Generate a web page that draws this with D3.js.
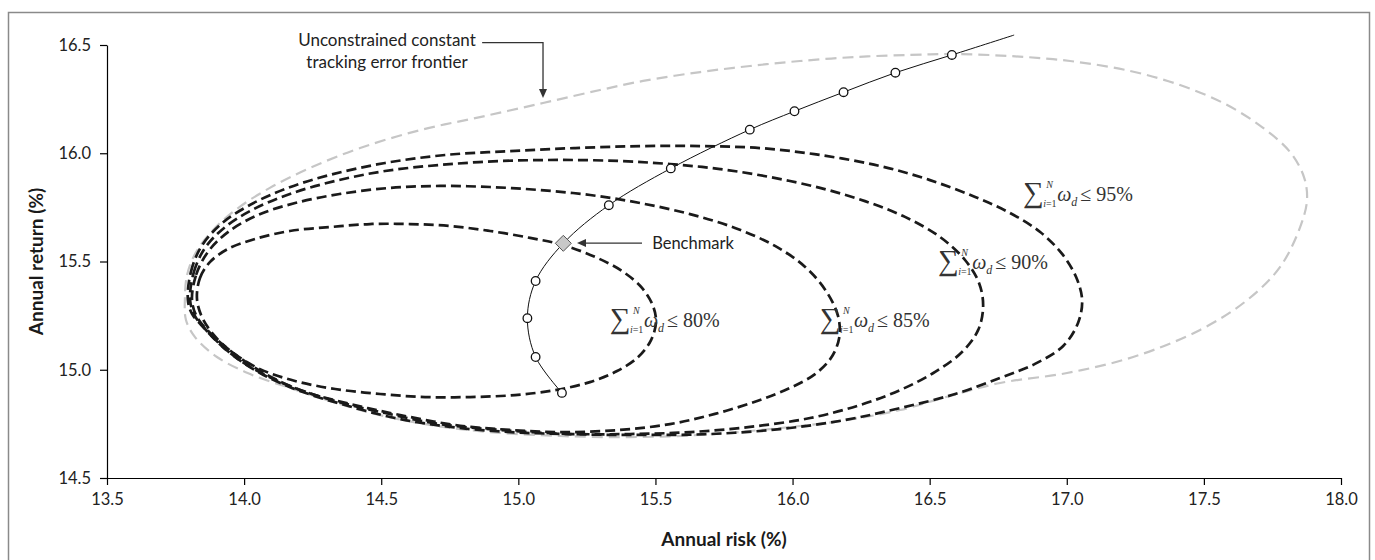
<!DOCTYPE html>
<html>
<head>
<meta charset="utf-8">
<script src="https://cdn.jsdelivr.net/npm/d3@7"></script>
<style>
  html, body { margin: 0; padding: 0; background: #fff; }
  svg { display: block; }
  .sans { font-family: Lato, "Open Sans", sans-serif; }
</style>
</head>
<body>
<svg id="chart" width="1375" height="560"></svg>
<script>
// ---------------- DATA ----------------
const riskTicks = [13.5, 14.0, 14.5, 15.0, 15.5, 16.0, 16.5, 17.0, 17.5, 18.0];
const returnTicks = [14.5, 15.0, 15.5, 16.0, 16.5];

// Constant tracking error frontier (solid line with markers)
const frontierRisk   = [15.159, 15.063, 15.033, 15.063, 15.164, 15.330, 15.556, 15.844, 16.007, 16.186, 16.375, 16.581, 16.808];
const frontierReturn = [14.893, 15.059, 15.238, 15.410, 15.584, 15.760, 15.930, 16.109, 16.194, 16.282, 16.372, 16.454, 16.546];
const frontierMarker = ["circle","circle","circle","circle","benchmark","circle","circle","circle","circle","circle","circle","circle","none"];

// Unconstrained constant tracking error frontier (grey dashed)
const unconstrainedRisk   = [13.784,13.792,13.825,13.887,13.978,14.094,14.240,14.423,14.642,14.860,15.090,15.298,15.455,15.663,15.845,16.027,16.235,16.429,16.582,16.793,17.012,17.231,17.413,17.577,17.712,17.814,17.865,17.876,17.851,17.778,17.658,17.486,17.242,17.001,16.757,16.574,16.392,16.173,15.918,15.663,15.407,15.152,14.897,14.678,14.477,14.277,14.167,14.022,13.901,13.821,13.788];
const unconstrainedReturn = [15.322,15.438,15.544,15.646,15.747,15.840,15.932,16.024,16.107,16.167,16.232,16.292,16.334,16.375,16.403,16.426,16.445,16.454,16.458,16.449,16.426,16.380,16.315,16.228,16.121,16.006,15.890,15.784,15.659,15.475,15.322,15.184,15.059,14.985,14.939,14.879,14.814,14.763,14.726,14.699,14.689,14.694,14.712,14.745,14.796,14.870,14.916,14.980,15.059,15.151,15.230];

// Constrained frontiers: sum of weights <= 95%, 90%, 85%, 80%
const c95Risk   = [13.795,13.806,13.843,13.912,14.014,14.149,14.313,14.514,14.733,14.970,15.207,15.444,15.663,15.881,16.100,16.319,16.501,16.666,16.793,16.903,16.983,17.034,17.056,17.041,16.987,16.884,16.757,16.593,16.392,16.192,15.954,15.699,15.444,15.189,14.933,14.714,14.514,14.332,14.167,14.029,13.927,13.854,13.810];
const c95Return = [15.322,15.452,15.567,15.669,15.756,15.835,15.900,15.955,15.992,16.010,16.024,16.033,16.033,16.024,15.992,15.941,15.876,15.798,15.724,15.636,15.535,15.428,15.322,15.216,15.110,15.027,14.962,14.888,14.823,14.768,14.726,14.703,14.699,14.703,14.722,14.749,14.800,14.856,14.925,15.008,15.100,15.193,15.258];

const c90Risk   = [13.803,13.817,13.857,13.927,14.029,14.167,14.332,14.514,14.714,14.933,15.152,15.371,15.553,15.736,15.918,16.100,16.264,16.410,16.538,16.629,16.680,16.695,16.677,16.618,16.520,16.392,16.246,16.064,15.845,15.626,15.407,15.189,14.970,14.751,14.550,14.368,14.204,14.058,13.949,13.868,13.821];
const c90Return = [15.322,15.452,15.562,15.655,15.738,15.812,15.872,15.918,15.946,15.964,15.969,15.964,15.950,15.927,15.890,15.840,15.779,15.706,15.613,15.507,15.401,15.295,15.184,15.082,14.990,14.906,14.837,14.777,14.736,14.712,14.703,14.703,14.712,14.736,14.777,14.837,14.902,14.985,15.077,15.174,15.248];

const c85Risk   = [13.810,13.825,13.868,13.941,14.051,14.186,14.350,14.532,14.714,14.897,15.079,15.262,15.444,15.626,15.790,15.936,16.046,16.122,16.166,16.170,16.140,16.082,15.991,15.871,15.717,15.553,15.371,15.170,14.970,14.769,14.569,14.386,14.204,14.065,13.956,13.876,13.828];
const c85Return = [15.322,15.438,15.544,15.636,15.715,15.770,15.812,15.840,15.849,15.844,15.830,15.807,15.770,15.719,15.655,15.572,15.475,15.364,15.248,15.147,15.054,14.980,14.916,14.856,14.796,14.749,14.722,14.712,14.722,14.745,14.791,14.842,14.906,14.990,15.082,15.170,15.244];

const c80Risk   = [13.828,13.839,13.876,13.941,14.040,14.167,14.313,14.459,14.605,14.751,14.897,15.043,15.163,15.280,15.378,15.451,15.491,15.502,15.484,15.437,15.360,15.261,15.134,14.988,14.824,14.660,14.496,14.332,14.186,14.058,13.956,13.883,13.843];
const c80Return = [15.331,15.424,15.498,15.558,15.604,15.641,15.659,15.673,15.673,15.664,15.641,15.609,15.576,15.521,15.456,15.378,15.295,15.221,15.137,15.059,14.994,14.943,14.906,14.883,14.874,14.874,14.888,14.911,14.948,15.003,15.082,15.170,15.253];

const constraintLevels = ["80%", "85%", "90%", "95%"];

// ---------------- LAYOUT (not data) ----------------
const W = 1375, H = 560;
const margin = { left: 107, right: 34, top: 45, bottom: 82 };
const labelAnchors = {          // in data units (risk, return)
  "80%": [15.334, 15.197],
  "85%": [16.100, 15.197],
  "90%": [16.531, 15.465],
  "95%": [16.841, 15.779]
};

const svg = d3.select("#chart");
const x = d3.scaleLinear().domain([13.5, 18.0]).range([margin.left, W - margin.right]);
const y = d3.scaleLinear().domain([14.5, 16.5]).range([H - margin.bottom, margin.top]);

// outer frame
svg.append("rect").attr("x", 8.5).attr("y", 12.5).attr("width", 1361).attr("height", 600)
  .attr("fill", "none").attr("stroke", "#8a8a8a").attr("stroke-width", 1.5);

// axes
const fmt = d3.format(".1f");
const gx = svg.append("g").attr("transform", `translate(0,${y(14.5)})`)
  .call(d3.axisBottom(x).tickValues(riskTicks).tickFormat(fmt).tickSize(7).tickSizeOuter(0).tickPadding(8));
const gy = svg.append("g").attr("transform", `translate(${x(13.5)},0)`)
  .call(d3.axisLeft(y).tickValues(returnTicks).tickFormat(fmt).tickSize(7).tickSizeOuter(0).tickPadding(9));
[gx, gy].forEach(g => {
  g.selectAll("path.domain").attr("stroke", "#000").attr("stroke-width", 1.2);
  g.selectAll(".tick line").attr("stroke", "#000").attr("stroke-width", 1.2);
  g.selectAll(".tick text").attr("class", "sans").style("font-size", "16.5px").attr("fill", "#222");
});

// axis titles
svg.append("text").attr("class", "sans").attr("x", (x(13.5) + x(18.0)) / 2).attr("y", 546)
  .attr("text-anchor", "middle").style("font-size", "19px").style("font-weight", "bold").attr("fill", "#1a1a1a")
  .text("Annual risk (%)");
svg.append("text").attr("class", "sans")
  .attr("transform", `translate(43,${(y(14.5) + y(16.5)) / 2}) rotate(-90)`)
  .attr("text-anchor", "middle").style("font-size", "19px").style("font-weight", "bold").attr("fill", "#1a1a1a")
  .text("Annual return (%)");

// curves
const closed = d3.line().x(d => x(d[0])).y(d => y(d[1])).curve(d3.curveCatmullRomClosed.alpha(0.5));
const zip = (a, b) => a.map((v, i) => [v, b[i]]);

svg.append("path").datum(zip(unconstrainedRisk, unconstrainedReturn)).attr("d", closed)
  .attr("fill", "none").attr("stroke", "#c6c6c6").attr("stroke-width", 2.2).attr("stroke-dasharray", "11,6");

const blackCurves = [
  zip(c95Risk, c95Return), zip(c90Risk, c90Return), zip(c85Risk, c85Return), zip(c80Risk, c80Return)
];
blackCurves.forEach(c => {
  svg.append("path").datum(c).attr("d", closed)
    .attr("fill", "none").attr("stroke", "#1a1a1a").attr("stroke-width", 2.7).attr("stroke-dasharray", "10,5");
});

// frontier line
const frontier = zip(frontierRisk, frontierReturn);
svg.append("path").datum(frontier)
  .attr("d", d3.line().x(d => x(d[0])).y(d => y(d[1])).curve(d3.curveCatmullRom.alpha(0.5)))
  .attr("fill", "none").attr("stroke", "#111").attr("stroke-width", 1);

frontier.forEach((p, i) => {
  if (frontierMarker[i] === "circle") {
    svg.append("circle").attr("cx", x(p[0])).attr("cy", y(p[1])).attr("r", 4.3)
      .attr("fill", "#fff").attr("stroke", "#111").attr("stroke-width", 1.3);
  } else if (frontierMarker[i] === "benchmark") {
    const cx = x(p[0]), cy = y(p[1]), s = 8;
    svg.append("path").attr("d", `M${cx},${cy - s}L${cx + s},${cy}L${cx},${cy + s}L${cx - s},${cy}Z`)
      .attr("fill", "#c8c8c8").attr("stroke", "#555").attr("stroke-width", 1);
  }
});

// annotation: unconstrained frontier
const annX = x(14.521);
svg.append("text").attr("class", "sans").attr("x", annX).attr("y", 46).attr("text-anchor", "middle")
  .style("font-size", "17px").attr("fill", "#222").text("Unconstrained constant");
svg.append("text").attr("class", "sans").attr("x", annX).attr("y", 68).attr("text-anchor", "middle")
  .style("font-size", "17px").attr("fill", "#222").text("tracking error frontier");
const ax1 = x(14.868), ax2 = x(15.090), ay1 = y(16.511), ay2 = y(16.255);
svg.append("path").attr("d", `M${ax1},${ay1}H${ax2}V${ay2 - 8}`).attr("fill", "none").attr("stroke", "#333").attr("stroke-width", 1.3);
svg.append("path").attr("d", `M${ax2 - 4},${ay2 - 9}L${ax2 + 4},${ay2 - 9}L${ax2},${ay2}Z`).attr("fill", "#333");

// annotation: benchmark
const by = y(15.585), bx1 = x(15.451), bx2 = x(15.214);
svg.append("path").attr("d", `M${bx1},${by}H${bx2 + 8}`).attr("stroke", "#333").attr("stroke-width", 1.3);
svg.append("path").attr("d", `M${bx2 + 9},${by - 4}L${bx2 + 9},${by + 4}L${bx2},${by}Z`).attr("fill", "#333");
svg.append("text").attr("class", "sans").attr("x", x(15.488)).attr("y", by).attr("dy", "0.35em")
  .style("font-size", "16.5px").attr("fill", "#222").text("Benchmark");

// constraint labels
function sumLabel(px, py, pct) {
  const t = svg.append("g").attr("transform", `translate(${px},${py})`).attr("fill", "#333")
    .style("font-family", '"Liberation Serif", "DejaVu Serif", serif');
  t.append("text").attr("x", 0).attr("y", 1).style("font-size", "29px").text("\u2211");
  t.append("text").attr("x", 23).attr("y", -13).style("font-size", "10px").style("font-style", "italic").text("N");
  const sub = t.append("text").attr("x", 20).attr("y", 6).style("font-size", "10px");
  sub.append("tspan").style("font-style", "italic").text("i");
  sub.append("tspan").text("=1");
  t.append("text").attr("x", 34).attr("y", 0).style("font-size", "20px").style("font-style", "italic").text("\u03C9");
  t.append("text").attr("x", 48).attr("y", 5).style("font-size", "12px").style("font-style", "italic").text("d");
  t.append("text").attr("x", 57).attr("y", 0).style("font-size", "20px").text("\u2264 " + pct);
}
constraintLevels.forEach(l => sumLabel(x(labelAnchors[l][0]), y(labelAnchors[l][1]), l));
</script>
</body>
</html>
